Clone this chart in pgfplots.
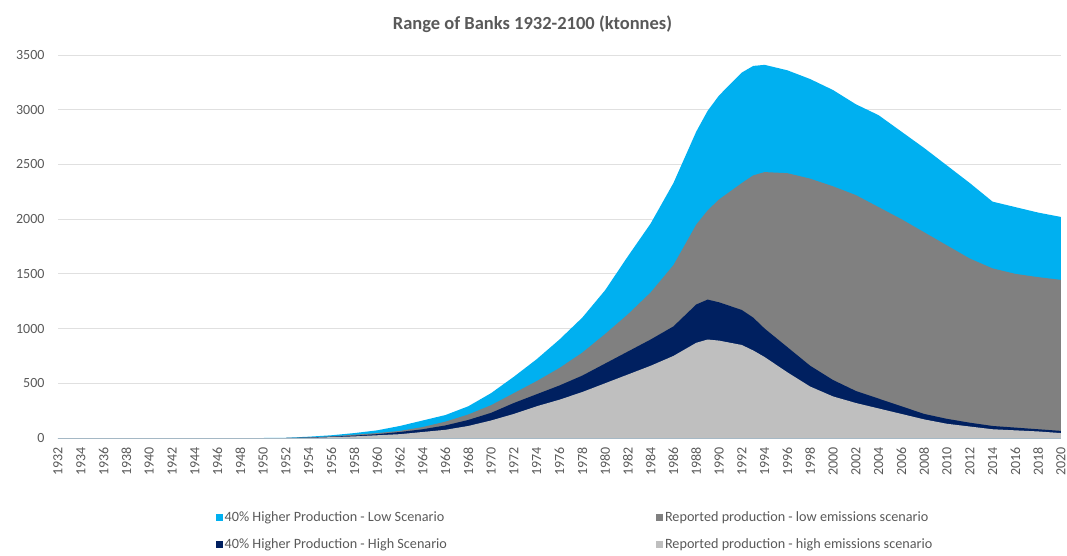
\documentclass[border=0pt]{standalone}
\usepackage{pgfplots}
\pgfplotsset{compat=1.18}
\usepackage{pgfplotstable}
\usepackage{fontspec}
\setmainfont{Carlito}
\definecolor{cblue}{HTML}{00B0F0}
\definecolor{cgray}{HTML}{808080}
\definecolor{cnavy}{HTML}{002060}
\definecolor{clgray}{HTML}{BFBFBF}
\definecolor{ctext}{HTML}{595959}
\definecolor{cgrid}{HTML}{E0E0E0}

\pgfplotstableread{
year blue gray navy lgray
1932 0 0 0 0
1950 0 0 0 0
1952 2 0 0 0
1954 12 5 4 2
1956 25 15 12 8
1958 45 30 22 15
1960 70 45 35 25
1962 110 65 55 35
1964 160 100 80 55
1966 210 150 115 75
1968 290 215 165 110
1970 410 300 230 160
1972 560 410 320 220
1974 720 520 400 290
1976 900 640 480 350
1978 1100 780 570 420
1980 1350 950 680 500
1982 1660 1130 790 580
1984 1960 1330 900 660
1986 2330 1580 1020 750
1988 2800 1950 1220 870
1989 2990 2080 1265 900
1990 3130 2180 1240 890
1992 3340 2330 1170 850
1993 3400 2400 1100 800
1994 3410 2430 1000 740
1996 3360 2420 830 600
1998 3280 2370 660 470
2000 3180 2300 530 380
2002 3050 2220 430 320
2004 2950 2110 360 270
2006 2800 2000 290 220
2008 2650 1880 220 170
2010 2490 1760 175 130
2012 2330 1640 140 105
2014 2160 1550 110 80
2016 2110 1500 95 70
2018 2060 1470 80 60
2020 2020 1445 65 45
}\banks

\begin{document}
\begin{tikzpicture}
\useasboundingbox (-58pt,-117pt) rectangle (1009pt,438pt);
\begin{axis}[
  scale only axis,
  width=1003pt, height=383pt,
  xmin=1932, xmax=2020, ymin=0, ymax=3500,
  xtick={1932,1934,...,2020},
  ytick={0,500,...,3500},
  /pgf/number format/1000 sep={},
  /pgf/number format/assume math mode=true,
  ymajorgrids, grid style={cgrid, line width=0.8pt},
  axis line style={draw=none},
  axis x line*=bottom,
  x axis line style={draw=cgrid, line width=0.8pt},
  axis y line*=left,
  y axis line style={draw=none},
  major tick length=0pt,
  tick style={draw=none},
  ticklabel style={font=\fontsize{14}{16}\selectfont, text=ctext},
  xticklabel style={rotate=90, anchor=east, xshift=-6pt},
  yticklabel style={anchor=east, xshift=-10pt},
  title={Range of Banks 1932-2100 (ktonnes)},
  title style={font=\fontsize{18.5}{22}\selectfont\bfseries, text=ctext, at={(0.5,1)}, anchor=center, yshift=25pt, xshift=-27pt},
  legend columns=2,
  legend cell align=left,
  legend style={draw=none, fill=none, at={(0.154,-0.1805)}, anchor=north west,
    font=\fontsize{14.2}{16}\selectfont, text=ctext,
    /tikz/every even column/.append style={column sep=207pt},
    row sep=12pt},
  legend image code/.code={\fill[#1] (0pt,-3.5pt) rectangle (7pt,3.5pt);},
  clip=false,
]
\addplot[fill=cblue, draw=none] table[x=year, y=blue] {\banks} \closedcycle;
\addlegendentry{40\% Higher Production - Low Scenario}
\addplot[fill=cgray, draw=none] table[x=year, y=gray] {\banks} \closedcycle;
\addlegendentry{Reported production - low emissions scenario}
\addplot[fill=cnavy, draw=none] table[x=year, y=navy] {\banks} \closedcycle;
\addlegendentry{40\% Higher Production - High Scenario}
\addplot[fill=clgray, draw=none] table[x=year, y=lgray] {\banks} \closedcycle;
\addlegendentry{Reported production - high emissions scenario}
\end{axis}
\end{tikzpicture}
\end{document}
